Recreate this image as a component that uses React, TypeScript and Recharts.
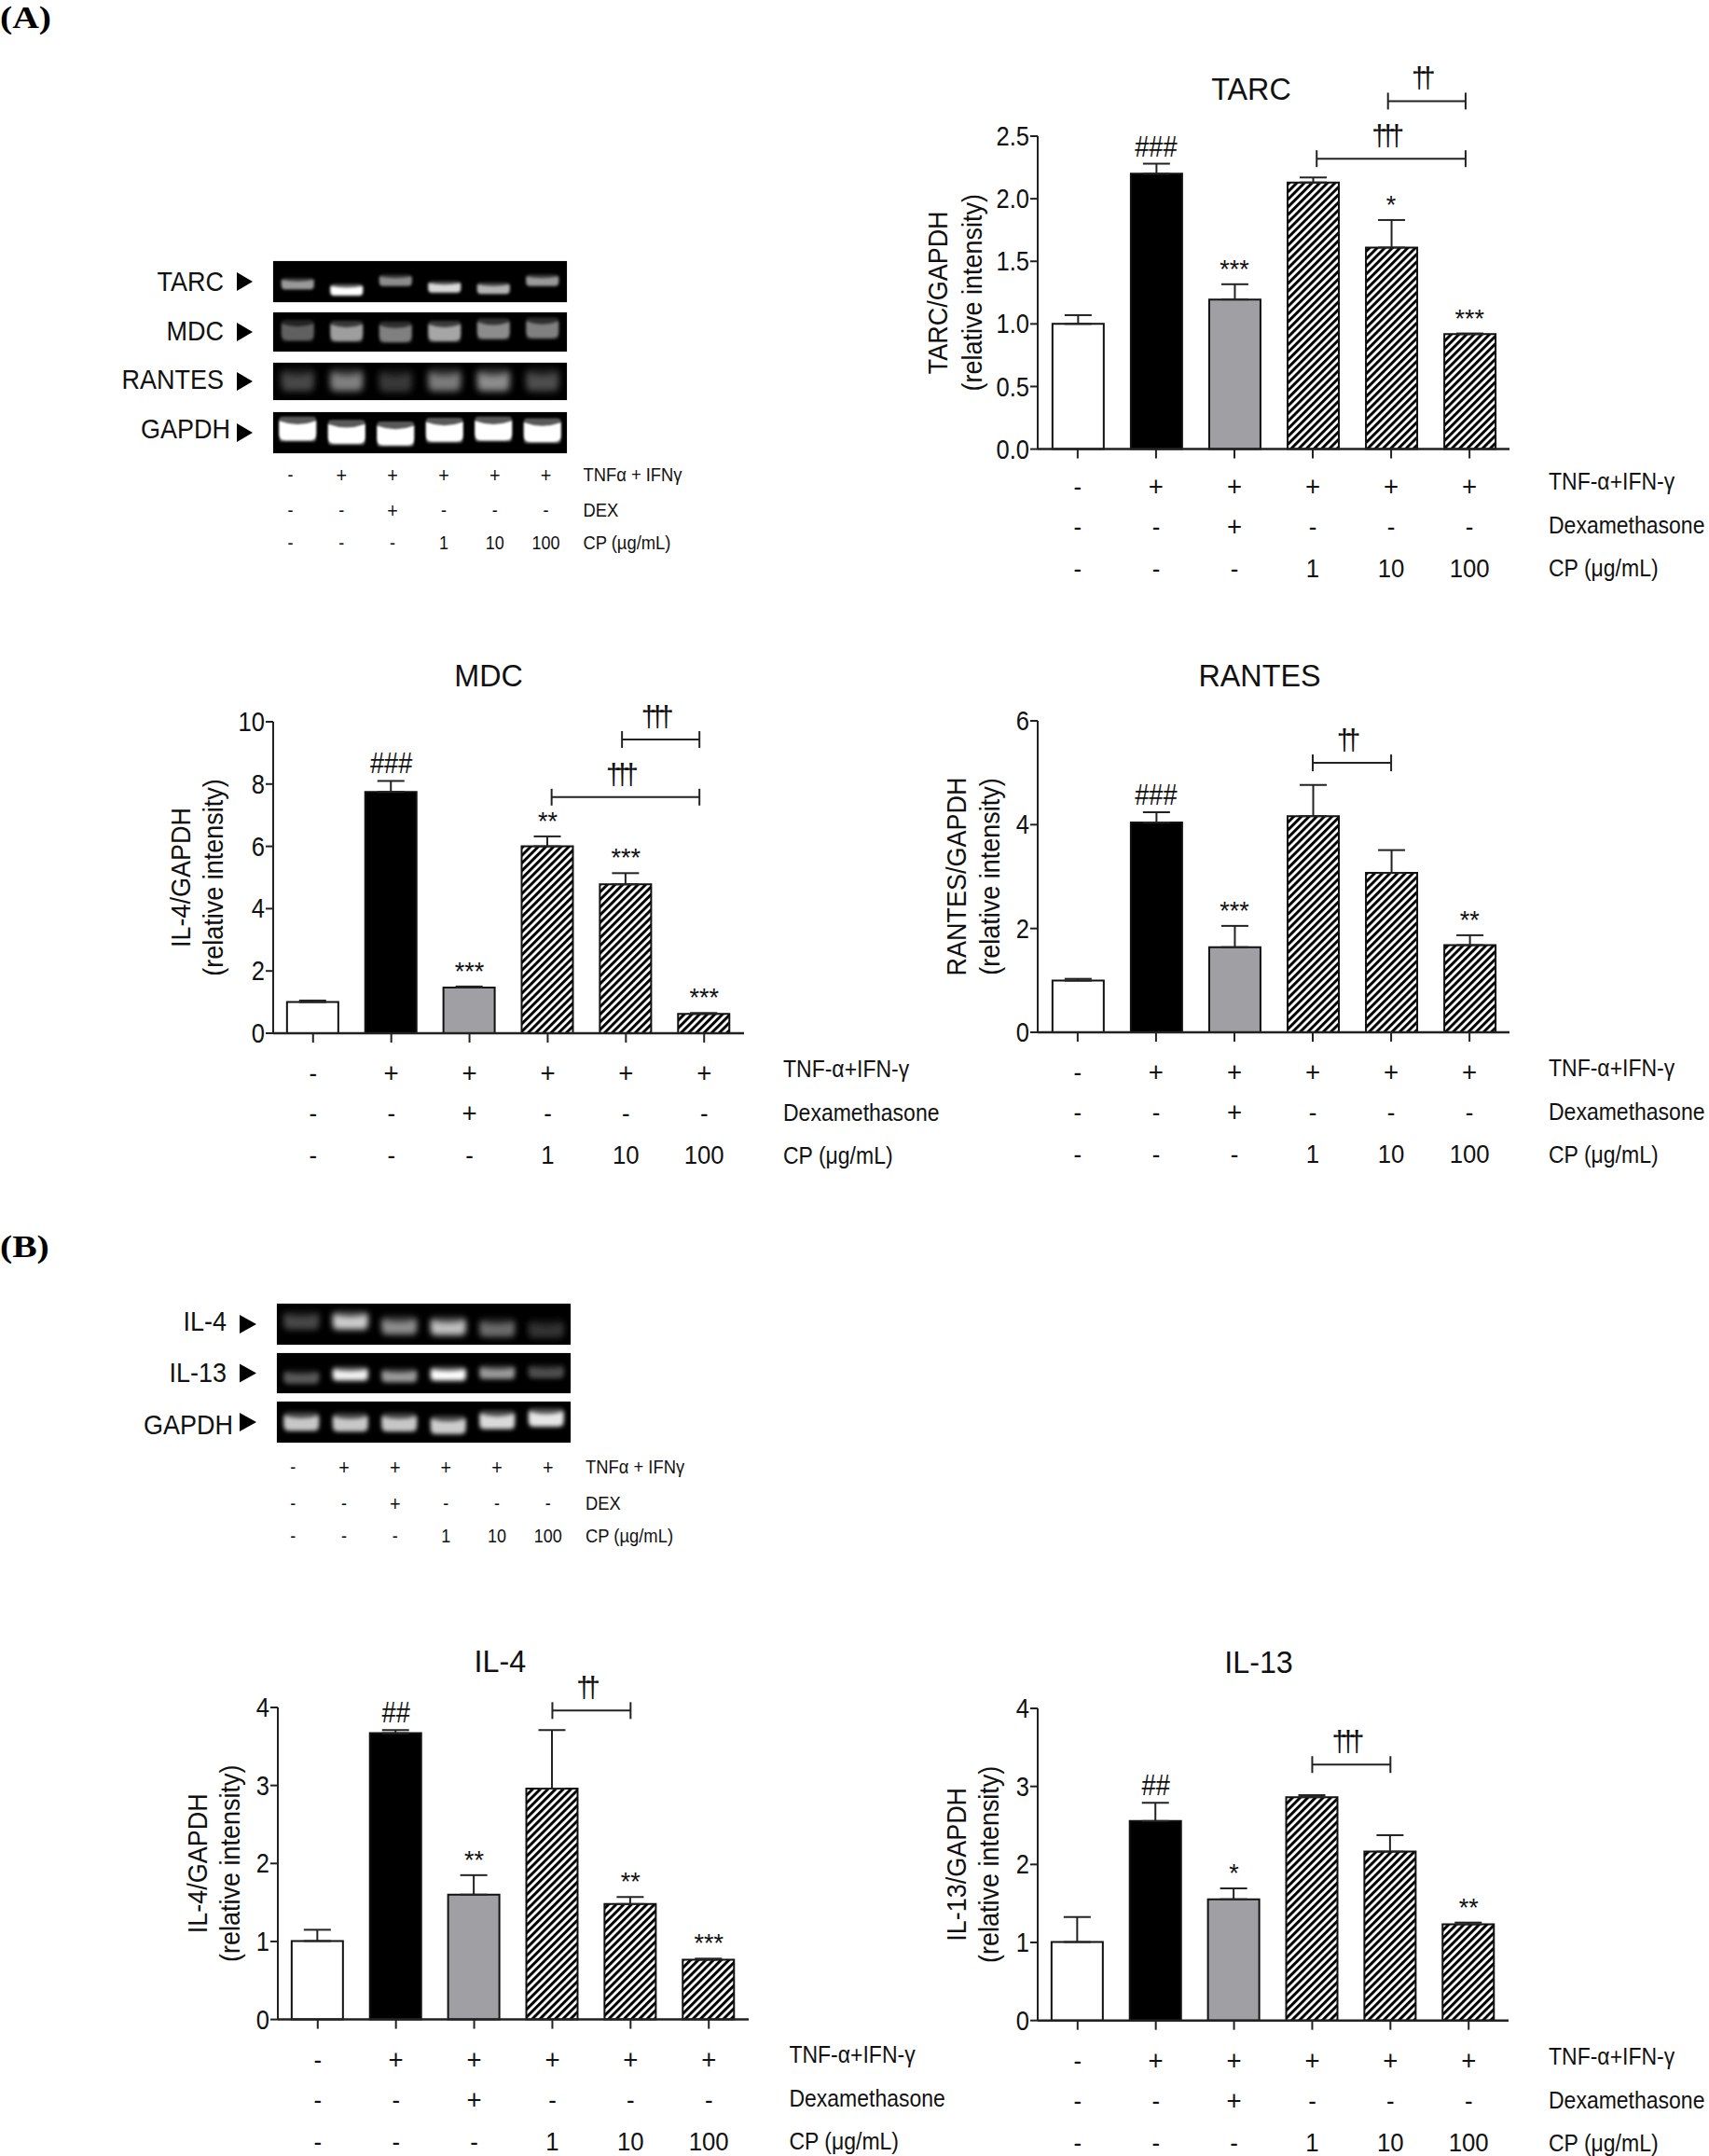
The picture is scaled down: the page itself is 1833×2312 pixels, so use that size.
import {
  Bar,
  Cell,
  ComposedChart,
  ErrorBar,
  LabelList,
  Line,
  ReferenceLine,
  Scatter,
  ScatterChart,
  XAxis,
  YAxis,
} from "recharts";

const SANS = "'Liberation Sans', Arial, sans-serif";
const INK = "#111";

const lanes = [1, 2, 3, 4, 5, 6];
const barFills = ["#fff", "#000", "#a0a0a4", "hatch", "hatch", "hatch"];
const tnfRow = ["-", "+", "+", "+", "+", "+"];
const dexRow = ["-", "-", "+", "-", "-", "-"];
const cpRow = ["-", "-", "-", "1", "10", "100"];
const rowRows = [tnfRow, dexRow, cpRow];

// bar panels
const tarcMeans = [1.0, 2.2, 1.195, 2.13, 1.61, 0.918];
const tarcErrors = [0.07, 0.08, 0.122, 0.04, 0.22, 0.006];
const tarcMarks = ["", "###", "***", "", "*", "***"];
const tarcTicks = [0, 0.5, 1, 1.5, 2, 2.5];
const tarcBrackets = [
  { from: 4.96, to: 5.95, y: 2.78, label: "††" },
  { from: 4.05, to: 5.95, y: 2.32, label: "†††" },
];

const mdcMeans = [1.0, 7.75, 1.47, 6.0, 4.78, 0.62];
const mdcErrors = [0.05, 0.35, 0.03, 0.32, 0.36, 0.03];
const mdcMarks = ["", "###", "***", "**", "***", "***"];
const mdcTicks = [0, 2, 4, 6, 8, 10];
const mdcBrackets = [
  { from: 4.95, to: 5.94, y: 9.43, label: "†††" },
  { from: 4.05, to: 5.94, y: 7.58, label: "†††" },
];

const rantesMeans = [0.995, 4.04, 1.64, 4.165, 3.07, 1.68];
const rantesErrors = [0.035, 0.2, 0.41, 0.6, 0.44, 0.19];
const rantesMarks = ["", "###", "***", "", "", "**"];
const rantesTicks = [0, 2, 4, 6];
const rantesBrackets = [{ from: 4, to: 5, y: 5.19, label: "††" }];

const il4Means = [1.006, 3.67, 1.6, 2.96, 1.48, 0.766];
const il4Errors = [0.144, 0.04, 0.25, 0.75, 0.09, 0.014];
const il4Marks = ["", "##", "**", "", "**", "***"];
const il4Ticks = [0, 1, 2, 3, 4];
const il4Brackets = [{ from: 4, to: 5, y: 3.96, label: "††" }];

const il13Means = [1.006, 2.556, 1.554, 2.863, 2.164, 1.234];
const il13Errors = [0.32, 0.234, 0.139, 0.025, 0.211, 0.021];
const il13Marks = ["", "##", "*", "", "", "**"];
const il13Ticks = [0, 1, 2, 3, 4];
const il13Brackets = [{ from: 4, to: 5, y: 3.28, label: "†††" }];

// gel bands: vertical place in the strip (0 top, 1 bottom) and brightness per lane
const gelTarcPos = [0.57, 0.72, 0.49, 0.65, 0.68, 0.49];
const gelTarcGlow = [0.6, 1, 0.55, 0.85, 0.7, 0.6];
const gelMdcPos = [0.5, 0.52, 0.54, 0.52, 0.46, 0.44];
const gelMdcGlow = [0.38, 0.62, 0.5, 0.65, 0.55, 0.5];
const gelRantesPos = [0.5, 0.5, 0.52, 0.5, 0.5, 0.5];
const gelRantesGlow = [0.28, 0.5, 0.22, 0.48, 0.55, 0.3];
const gelGapdhPos = [0.45, 0.53, 0.57, 0.48, 0.45, 0.49];
const gelGapdhGlow = [1, 1, 1, 1, 1, 1];
const gelIl4Pos = [0.44, 0.44, 0.56, 0.58, 0.62, 0.64];
const gelIl4Glow = [0.28, 0.8, 0.55, 0.75, 0.42, 0.2];
const gelIl13Pos = [0.62, 0.54, 0.58, 0.54, 0.5, 0.48];
const gelIl13Glow = [0.35, 0.95, 0.6, 1, 0.6, 0.3];
const gelGapdh2Pos = [0.52, 0.54, 0.54, 0.6, 0.48, 0.42];
const gelGapdh2Glow = [0.78, 0.78, 0.78, 0.8, 0.85, 0.9];

const gelRowLabels = ["TNFα + IFNγ", "DEX", "CP (µg/mL)"];
const barRowLabels = ["TNF-α+IFN-γ", "Dexamethasone", "CP (μg/mL)"];

const LEFT_W = 130;
const TOP_H = 110;
const RIGHT_W = 214;
const BOTTOM_H = 160;
const ROW_HEAD = 30; // room above the first row of the gel tables

// the source figure's type is a little condensed, so glyphs are squeezed along the run
function Tall(props: any) {
  const { x, y, sx = 0.9, turn, children, ...rest } = props;
  const t = `translate(${x} ${y})${turn ? " rotate(-90)" : ""} scale(${sx} 1)`;
  return (
    <text transform={t} fontFamily={SANS} fill={INK} {...rest}>
      {children}
    </text>
  );
}

function rowTick(fontSize: number, offsets: number[], tickLen: number, sx: number) {
  return (props: any) => {
    const { x, y, index } = props;
    return (
      <g>
        {rowRows.map((row, r) => (
          <Tall
            key={r}
            x={x}
            y={y - tickLen + offsets[r]}
            sx={sx}
            textAnchor="middle"
            dominantBaseline="central"
            fontSize={row[index] === "+" ? fontSize + 2 : fontSize}
          >
            {row[index]}
          </Tall>
        ))}
      </g>
    );
  };
}

function yTick(decimals: number) {
  return (props: any) => {
    const { x, y, payload } = props;
    return (
      <Tall x={x} y={y} sx={0.88} textAnchor="end" dominantBaseline="central" fontSize={29}>
        {Number(payload.value).toFixed(decimals)}
      </Tall>
    );
  };
}

function bracketShape(label: string) {
  return (props: any) => {
    const { x1, x2, y1 } = props;
    return (
      <g stroke="#222" strokeWidth={2}>
        <line x1={x1} x2={x2} y1={y1} y2={y1} />
        <line x1={x1} x2={x1} y1={y1 - 9} y2={y1 + 9} />
        <line x1={x2} x2={x2} y1={y1 - 9} y2={y1 + 9} />
        <Tall
          x={(x1 + x2) / 2 - 7}
          y={y1 - 14}
          sx={0.95}
          textAnchor="middle"
          fontSize={31}
          letterSpacing={-7.5}
          stroke="none"
        >
          {label}
        </Tall>
      </g>
    );
  };
}

function MarkLabel(props: any) {
  const { x, y, value } = props;
  if (!value) return null;
  const isHash = String(value).startsWith("#");
  return (
    <Tall
      x={x}
      y={y - (isHash ? 8 : 7)}
      sx={isHash ? 0.85 : 1}
      textAnchor="middle"
      fontSize={isHash ? 32 : 27}
    >
      {value}
    </Tall>
  );
}

type PanelProps = {
  name: string;
  axisX: number;
  plotRight: number;
  yTop: number;
  yBottom: number;
  yMax: number;
  ticks: number[];
  decimals?: number;
  means: number[];
  errors: number[];
  marks: string[];
  brackets: { from: number; to: number; y: number; label: string }[];
  titleX: number;
  titleBase: number;
  yLabel: string;
  labelOffsets: [number, number];
  rowLabelX: number;
  rowShift?: number;
};

function BarPanel(p: PanelProps) {
  const plotW = p.plotRight - p.axisX;
  const plotH = p.yBottom - p.yTop;
  const rows = lanes.map((lane, i) => ({
    lane,
    mean: p.means[i],
    err: [0, p.errors[i]],
    top: p.means[i] + p.errors[i],
    mark: p.marks[i],
  }));
  const hatchId = "hatch-" + p.name;
  const cy = TOP_H + plotH / 2;
  const shift = p.rowShift ?? 0;
  const rowOffsets = [43 + shift, 86 + shift, 131 + shift];
  const labelYs = [38 + shift, 85 + shift, 131 + shift];
  return (
    <div style={{ position: "absolute", left: p.axisX - LEFT_W, top: p.yTop - TOP_H }}>
      <ComposedChart
        width={LEFT_W + plotW + RIGHT_W}
        height={TOP_H + plotH + BOTTOM_H}
        data={rows}
        margin={{ top: TOP_H, right: RIGHT_W, bottom: BOTTOM_H - 30, left: 0 }}
      >
        <defs>
          <pattern
            id={hatchId}
            width={5.8}
            height={5.8}
            patternUnits="userSpaceOnUse"
            patternTransform="rotate(45)"
          >
            <rect width={5.8} height={5.8} fill="#fff" />
            <rect width={3} height={5.8} fill="#000" />
          </pattern>
        </defs>
        <XAxis
          dataKey="lane"
          type="number"
          domain={[0.49, 6.51]}
          ticks={lanes}
          interval={0}
          height={30}
          tickSize={10}
          tickMargin={0}
          axisLine={{ stroke: "#222", strokeWidth: 2.5 }}
          tickLine={{ stroke: "#222", strokeWidth: 2 }}
          tick={rowTick(28, rowOffsets, 10, 0.92)}
        />
        <YAxis
          type="number"
          width={LEFT_W}
          domain={[0, p.yMax]}
          ticks={p.ticks}
          interval={0}
          tickSize={8}
          tickMargin={1}
          axisLine={{ stroke: "#222", strokeWidth: 2 }}
          tickLine={{ stroke: "#222", strokeWidth: 2 }}
          tick={yTick(p.decimals ?? 0)}
        />
        <Bar dataKey="mean" barSize={55} stroke="#111" strokeWidth={2} isAnimationActive={false}>
          {rows.map((_, i) => (
            <Cell key={i} fill={barFills[i] === "hatch" ? `url(#${hatchId})` : barFills[i]} />
          ))}
          <ErrorBar dataKey="err" direction="y" width={14.5} stroke="#222" strokeWidth={2} />
        </Bar>
        <Line dataKey="top" stroke="none" dot={false} activeDot={false} isAnimationActive={false}>
          <LabelList dataKey="mark" content={MarkLabel} />
        </Line>
        {p.brackets.map((b, i) => (
          <ReferenceLine
            key={i}
            segment={[
              { x: b.from, y: b.y },
              { x: b.to, y: b.y },
            ]}
            ifOverflow="visible"
            shape={bracketShape(b.label)}
          />
        ))}
        <Tall
          x={p.titleX - p.axisX + LEFT_W}
          y={p.titleBase - p.yTop + TOP_H}
          sx={0.95}
          textAnchor="middle"
          fontSize={34}
        >
          {p.name}
        </Tall>
        {[p.yLabel, "(relative intensity)"].map((t, i) => (
          <Tall
            key={i}
            x={LEFT_W + p.labelOffsets[i]}
            y={cy}
            turn
            sx={0.93}
            textAnchor="middle"
            dominantBaseline="central"
            fontSize={29}
          >
            {t}
          </Tall>
        ))}
        {barRowLabels.map((t, i) => (
          <Tall
            key={i}
            x={p.rowLabelX - p.axisX + LEFT_W}
            y={TOP_H + plotH + labelYs[i]}
            sx={0.92}
            dominantBaseline="central"
            fontSize={25}
          >
            {t}
          </Tall>
        ))}
      </ComposedChart>
    </div>
  );
}

function bandShape(w: number, h: number, blur: number, blurId: string) {
  return (props: any) => {
    const { cx, cy, payload } = props;
    const g = Math.round(255 * payload.glow);
    const core = `rgb(${g},${g},${g})`;
    const x0 = cx - w / 2;
    const x1 = cx + w / 2;
    const yt = cy - h / 2;
    const yb = cy + h / 2;
    const r = Math.min(h * 0.4, 7);
    // band smiles: sagging top edge and rounded lower corners, like the run on the gel
    const d = `M${x0},${yt} Q${cx},${yt + h * 0.35} ${x1},${yt} L${x1},${yb - r} Q${x1},${yb} ${x1 - r},${yb} L${x0 + r},${yb} Q${x0},${yb} ${x0},${yb - r} Z`;
    return (
      <g filter={`url(#${blurId})`}>
        <rect
          x={x0}
          y={yt - h * 0.22}
          width={w}
          height={h * 1.3}
          rx={4}
          fill={core}
          opacity={0.35}
        />
        <path d={d} fill={core} />
      </g>
    );
  };
}

type StripProps = {
  id: string;
  label: string;
  left: number;
  top: number;
  width: number;
  height: number;
  positions: number[];
  glows: number[];
  bandW: number;
  bandH: number;
  blur: number;
  textRight: number;
  textBase: number;
  arrowLeft: number;
  arrowW: number;
};

function GelStrip(s: StripProps) {
  const data = lanes.map((lane, i) => ({ lane, pos: s.positions[i], glow: s.glows[i] }));
  const blurId = "blur-" + s.id;
  const midY = s.top + s.height / 2;
  return (
    <>
      <div
        style={{
          position: "absolute",
          left: s.left,
          top: s.top,
          width: s.width,
          height: s.height,
          background: "#000",
          overflow: "hidden",
          boxShadow: "0 0 1px #888",
        }}
      >
        <ScatterChart width={s.width} height={s.height} margin={{ top: 0, right: 0, bottom: 0, left: 0 }}>
          <defs>
            <filter id={blurId} x="-30%" y="-60%" width="160%" height="220%">
              <feGaussianBlur stdDeviation={s.blur} />
            </filter>
          </defs>
          <XAxis dataKey="lane" type="number" domain={[0.5, 6.5]} hide />
          <YAxis dataKey="pos" type="number" domain={[0, 1]} reversed hide />
          <Scatter
            data={data}
            isAnimationActive={false}
            shape={bandShape(s.bandW, s.bandH, s.blur, blurId)}
          />
        </ScatterChart>
      </div>
      <svg
        style={{ position: "absolute", left: 0, top: s.top - 30, overflow: "visible" }}
        width={s.arrowLeft + s.arrowW + 2}
        height={s.height + 60}
      >
        <Tall x={s.textRight} y={s.textBase - s.top + 30} sx={0.9} textAnchor="end" fontSize={30}>
          {s.label}
        </Tall>
        <polygon
          points={`${s.arrowLeft},${midY - s.top + 20} ${s.arrowLeft + s.arrowW},${midY - s.top + 30} ${s.arrowLeft},${midY - s.top + 40}`}
          fill="#000"
        />
      </svg>
    </>
  );
}

function GelRows(r: { left: number; firstRow: number; width: number; labelX: number; offsets: number[] }) {
  const rows = lanes.map((lane) => ({ lane, y: 0 }));
  return (
    <div style={{ position: "absolute", left: r.left, top: r.firstRow - ROW_HEAD }}>
      <ComposedChart
        width={r.width + 180}
        height={ROW_HEAD + 100}
        data={rows}
        margin={{ top: ROW_HEAD - 10, right: 180, bottom: 99, left: 0 }}
      >
        <XAxis
          dataKey="lane"
          type="number"
          domain={[0.5, 6.5]}
          ticks={lanes}
          interval={0}
          height={1}
          tickSize={0}
          tickMargin={0}
          axisLine={false}
          tickLine={false}
          tick={rowTick(20, r.offsets, 0, 0.9)}
        />
        <YAxis hide domain={[0, 1]} />
        <Line dataKey="y" stroke="none" dot={false} activeDot={false} isAnimationActive={false} />
        {gelRowLabels.map((t, i) => (
          <Tall
            key={i}
            x={r.labelX - r.left}
            y={ROW_HEAD + r.offsets[i]}
            sx={0.92}
            dominantBaseline="central"
            fontSize={20}
          >
            {t}
          </Tall>
        ))}
      </ComposedChart>
    </div>
  );
}

function PanelLetter({ text, base }: { text: string; base: number }) {
  return (
    <svg style={{ position: "absolute", left: 0, top: base - 30 }} width={70} height={44}>
      <text
        transform="translate(0 30) scale(1.2 1)"
        fontFamily="'Liberation Serif', serif"
        fontWeight={700}
        fontSize={33}
        fill="#000"
      >
        {text}
      </text>
    </svg>
  );
}

export default function App() {
  const gelA = { left: 293, width: 315, arrowLeft: 254, arrowW: 17, textRight: 240, bandW: 35 };
  const gelB = { left: 297, width: 315, arrowLeft: 257, arrowW: 18, textRight: 243, bandW: 38 };
  return (
    <div
      style={{
        position: "absolute",
        left: 0,
        top: 0,
        width: 1833,
        height: 2312,
        background: "#fff",
        overflow: "hidden",
      }}
    >
      <PanelLetter text="(A)" base={30} />
      <PanelLetter text="(B)" base={1348} />

      <GelStrip id="a1" label="TARC" top={280} height={44} {...gelA} positions={gelTarcPos} glows={gelTarcGlow} bandH={10} blur={1.5} textBase={312} />
      <GelStrip id="a2" label="MDC" top={335} height={42} {...gelA} positions={gelMdcPos} glows={gelMdcGlow} bandH={18} blur={1.8} textBase={365} />
      <GelStrip id="a3" label="RANTES" top={389} height={40} {...gelA} positions={gelRantesPos} glows={gelRantesGlow} bandH={20} blur={3.5} textBase={417} />
      <GelStrip id="a4" label="GAPDH" top={442} height={44} {...gelA} bandW={40} textRight={247} positions={gelGapdhPos} glows={gelGapdhGlow} bandH={21} blur={1.2} textBase={470} />
      <GelRows left={283.6} firstRow={509} width={329} labelX={625} offsets={[0, 38, 73]} />

      <BarPanel name="TARC" axisX={1113} plotRight={1619} yTop={145.7} yBottom={481.3} yMax={2.5} ticks={tarcTicks} decimals={1} means={tarcMeans} errors={tarcErrors} marks={tarcMarks} brackets={tarcBrackets} titleX={1342} titleBase={107} yLabel="TARC/GAPDH" labelOffsets={[-107, -70]} rowLabelX={1661} rowShift={-3} />
      <BarPanel name="MDC" axisX={293} plotRight={798} yTop={774} yBottom={1108} yMax={10} ticks={mdcTicks} means={mdcMeans} errors={mdcErrors} marks={mdcMarks} brackets={mdcBrackets} titleX={524} titleBase={736} yLabel="IL-4/GAPDH" labelOffsets={[-99, -64]} rowLabelX={840} />
      <BarPanel name="RANTES" axisX={1113} plotRight={1619} yTop={773} yBottom={1107} yMax={6} ticks={rantesTicks} means={rantesMeans} errors={rantesErrors} marks={rantesMarks} brackets={rantesBrackets} titleX={1351} titleBase={736} yLabel="RANTES/GAPDH" labelOffsets={[-87, -51]} rowLabelX={1661} />

      <GelStrip id="b1" label="IL-4" top={1398} height={44} {...gelB} positions={gelIl4Pos} glows={gelIl4Glow} bandH={16} blur={3} textBase={1427} />
      <GelStrip id="b2" label="IL-13" top={1451} height={43} {...gelB} positions={gelIl13Pos} glows={gelIl13Glow} bandH={12} blur={2.8} textBase={1482} />
      <GelStrip id="b3" label="GAPDH" top={1503} height={44} {...gelB} textRight={250} positions={gelGapdh2Pos} glows={gelGapdh2Glow} bandH={16} blur={2} textBase={1538} />
      <GelRows left={287} firstRow={1573} width={328} labelX={628} offsets={[0, 39, 74]} />

      <BarPanel name="IL-4" axisX={297.6} plotRight={802.6} yTop={1831} yBottom={2165.6} yMax={4} ticks={il4Ticks} means={il4Means} errors={il4Errors} marks={il4Marks} brackets={il4Brackets} titleX={536} titleBase={1793} yLabel="IL-4/GAPDH" labelOffsets={[-86, -51]} rowLabelX={846} />
      <BarPanel name="IL-13" axisX={1113} plotRight={1618} yTop={1832} yBottom={2166.7} yMax={4} ticks={il13Ticks} means={il13Means} errors={il13Errors} marks={il13Marks} brackets={il13Brackets} titleX={1350} titleBase={1794} yLabel="IL-13/GAPDH" labelOffsets={[-87, -52]} rowLabelX={1661} />
    </div>
  );
}
